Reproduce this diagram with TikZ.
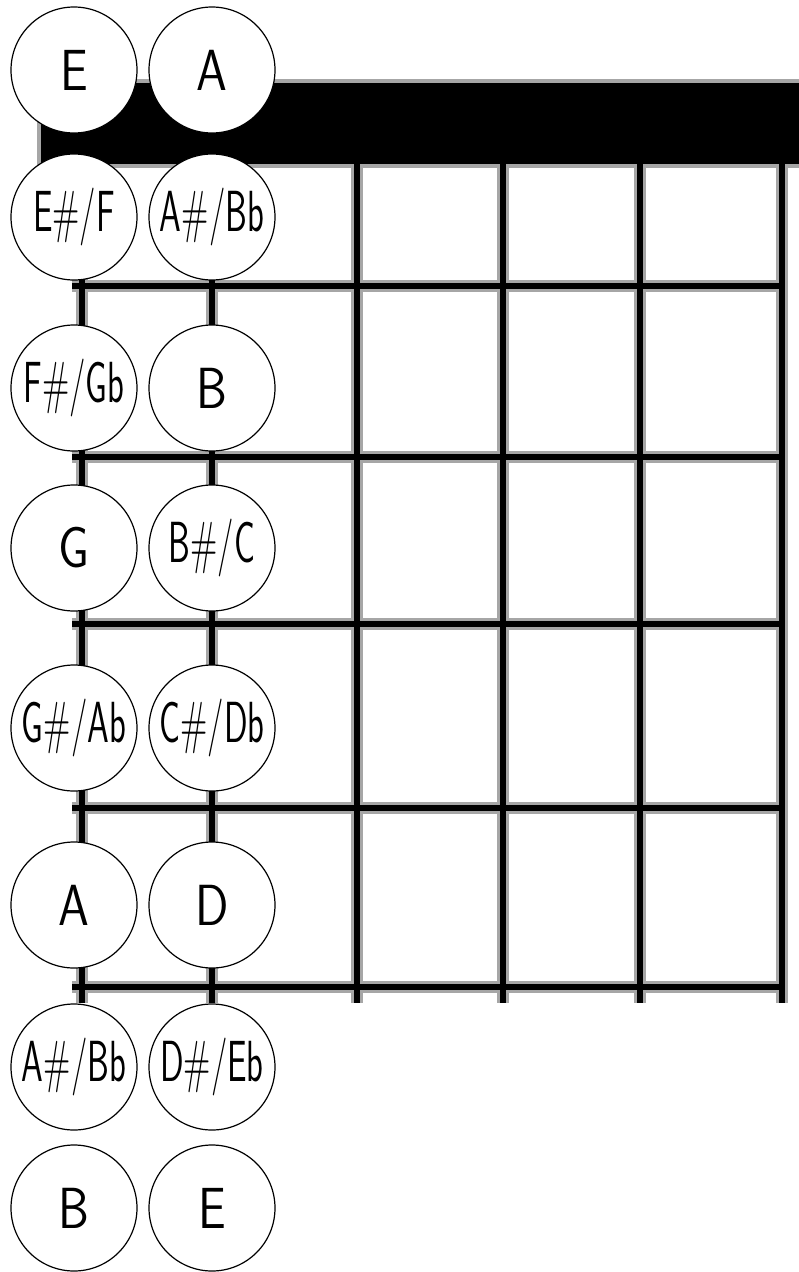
\documentclass[tikz,border=0pt]{standalone}
\usepackage{fontspec}
\usepackage{graphicx}
\newcommand{\stretto}[1]{\scalebox{0.6}[1]{#1}}
\begin{document}
\begin{tikzpicture}[x=1pt, y=-1pt,
    bordo/.style={line width=12pt, black!35},
    anima/.style={line width=6pt, black},
    nota/.style={circle, draw=black, line width=1.2pt, fill=white,
        minimum size=126pt, inner sep=0pt,
        font=\sffamily\fontsize{58}{58}\selectfont}]
    \useasboundingbox (0,0) rectangle (799,1272);

    % Capotasto
    \fill[black!35] (37,79) rectangle (799,168);
    \fill[black] (41,83) rectangle (799,164);

    % Corde e tasti
    \foreach \x in {82,212,357,503,640,782}
        \draw[bordo] (\x,164) -- (\x,1003);
    \foreach \y in {286,457,624,808,987}
        \draw[bordo] (72,\y) -- (782,\y);
    \foreach \x in {82,212,357,503,640,782}
        \draw[anima] (\x,164) -- (\x,1003);
    \foreach \y in {286,457,624,808,987}
        \draw[anima] (72,\y) -- (782,\y);

    % Note: corda di Mi (sinistra)
    \node[nota] (mi0) at (74,70)   {\scalebox{0.85}[1]{E}};
    \node[nota] (mi1) at (74,217)  {\stretto{E\#/F}};
    \node[nota] (mi2) at (74,388)  {\stretto{F\#/Gb}};
    \node[nota] (mi3) at (74,548)  {\scalebox{0.85}[1]{G}};
    \node[nota] (mi4) at (74,728)  {\stretto{G\#/Ab}};
    \node[nota] (mi5) at (74,905)  {\scalebox{0.85}[1]{A}};
    \node[nota] (mi6) at (74,1067) {\stretto{A\#/Bb}};
    \node[nota] (mi7) at (74,1208) {\scalebox{0.85}[1]{B}};

    % Note: corda di La (destra)
    \node[nota] (la0) at (212,70)   {\scalebox{0.85}[1]{A}};
    \node[nota] (la1) at (212,217)  {\stretto{A\#/Bb}};
    \node[nota] (la2) at (212,388)  {\scalebox{0.85}[1]{B}};
    \node[nota] (la3) at (212,548)  {\stretto{B\#/C}};
    \node[nota] (la4) at (212,728)  {\stretto{C\#/Db}};
    \node[nota] (la5) at (212,905)  {\scalebox{0.85}[1]{D}};
    \node[nota] (la6) at (212,1067) {\stretto{D\#/Eb}};
    \node[nota] (la7) at (212,1208) {\scalebox{0.85}[1]{E}};
\end{tikzpicture}
\end{document}
